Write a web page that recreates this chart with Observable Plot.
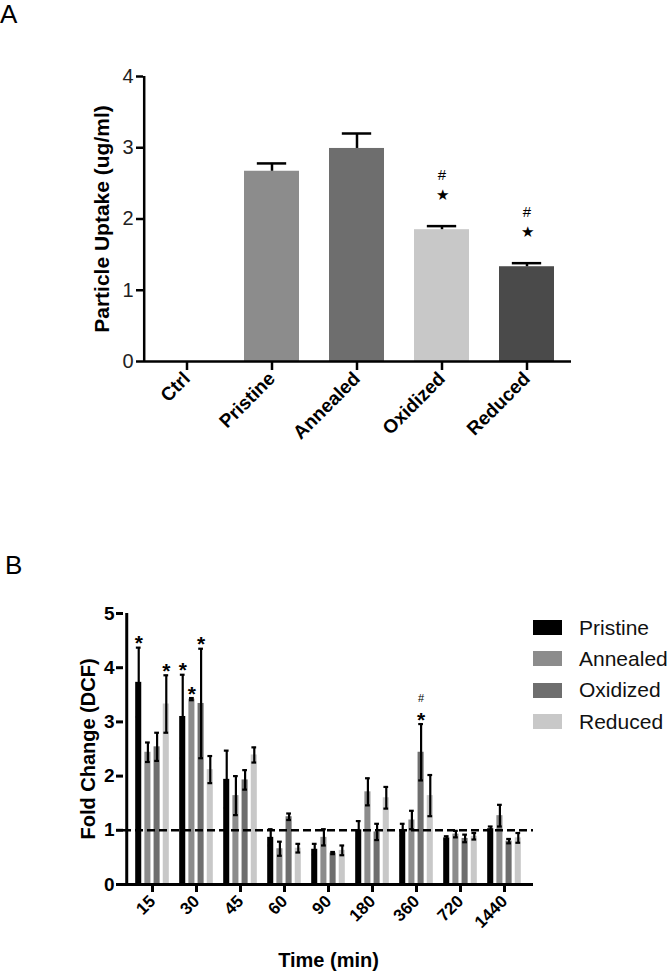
<!DOCTYPE html>
<html>
<head>
<meta charset="utf-8">
<script src="https://cdn.jsdelivr.net/npm/d3@7"></script>
<script src="https://cdn.jsdelivr.net/npm/@observablehq/plot@0.6"></script>
<style>
  html, body { margin: 0; padding: 0; background: #fff; }
  body { width: 670px; height: 975px; position: relative; overflow: hidden;
         font-family: "Liberation Sans", Arial, sans-serif; color: #000; }
  .panel-letter { position: absolute; font-size: 26px; line-height: 1; font-weight: normal; z-index: 5; }
  #chartA, #chartB { position: absolute; left: 0; }
  #chartA { top: 0; }
  #chartB { top: 570px; }
  #legendB { position: absolute; left: 533px; top: 612px; z-index: 5; }
  .lg-row { display: flex; align-items: center; height: 31.3px; }
  .lg-sw { width: 29px; height: 15px; margin-right: 17px; }
  .lg-tx { font-size: 21px; color: #111; }
</style>
</head>
<body>
<div id="chartA"></div>
<div id="chartB"></div>
<div class="panel-letter" style="left:0px;top:1px;">A</div>
<div class="panel-letter" style="left:5px;top:552px;">B</div>
<div id="legendB"></div>
<script>
// ---------- Panel A data ----------
const groupsA = ["Ctrl", "Pristine", "Annealed", "Oxidized", "Reduced"];
const uptakeA = [0, 2.67, 2.99, 1.85, 1.33];
const semA = [0, 0.11, 0.21, 0.05, 0.05];
const colorsA = ["#000000", "#8c8c8c", "#6e6e6e", "#c8c8c8", "#4a4a4a"];
const sigGroupsA = ["Oxidized", "Reduced"];
const yTicksA = [0, 1, 2, 3, 4];

// ---------- Panel B data ----------
const timeLabels = ["15", "30", "45", "60", "90", "180", "360", "720", "1440"];
const seriesB = ["Pristine", "Annealed", "Oxidized", "Reduced"];
const colorsB = ["#000000", "#8c8c8c", "#6e6e6e", "#c8c8c8"];
const meanPristine = [3.73, 3.10, 1.94, 0.87, 0.65, 1.01, 1.01, 0.86, 1.03];
const sdPristine   = [0.64, 0.77, 0.53, 0.15, 0.10, 0.16, 0.11, 0.03, 0.04];
const meanAnnealed = [2.44, 3.42, 1.64, 0.66, 0.87, 1.71, 1.19, 0.93, 1.27];
const sdAnnealed   = [0.18, 0.02, 0.36, 0.13, 0.15, 0.25, 0.17, 0.06, 0.20];
const meanOxidized = [2.54, 3.34, 1.93, 1.25, 0.58, 0.97, 2.44, 0.85, 0.80];
const sdOxidized   = [0.26, 1.01, 0.18, 0.06, 0.02, 0.15, 0.52, 0.07, 0.04];
const meanReduced  = [3.33, 2.12, 2.39, 0.67, 0.63, 1.60, 1.64, 0.89, 0.86];
const sdReduced    = [0.53, 0.25, 0.14, 0.08, 0.09, 0.20, 0.38, 0.06, 0.09];
const sigStarB = [["15", "Pristine"], ["15", "Reduced"], ["30", "Pristine"], ["30", "Annealed"], ["30", "Oxidized"], ["360", "Oxidized"]];
const sigHashB = [["360", "Oxidized"]];
const yTicksB = [0, 1, 2, 3, 4, 5];
const baselineB = 1;

const FONT = "Liberation Sans, Arial, sans-serif";

// ---------- Panel A ----------
{
  const data = groupsA.map((g, i) => ({group: g, value: uptakeA[i], sem: semA[i], color: colorsA[i]}));
  const withErr = data.filter(d => d.sem > 0);
  const sig = data.filter(d => sigGroupsA.includes(d.group));
  const W = 670, H = 430, mL = 143, mR = 99, mT = 76, mB = 69;
  const pi = 0.35, po = 0.175;
  const step = (W - mL - mR) / (groupsA.length - pi + 2 * po);
  const bw = step * (1 - pi);
  const capW = 30;
  const yMax = yTicksA[yTicksA.length - 1];
  const chart = Plot.plot({
    width: W, height: H,
    marginLeft: mL, marginRight: mR, marginTop: mT, marginBottom: mB,
    style: {fontFamily: FONT, color: "#000", background: "#fff", overflow: "visible"},
    x: {domain: groupsA, paddingInner: pi, paddingOuter: po, label: null},
    y: {domain: [0, yMax], label: null},
    marks: [
      Plot.barY(data, {x: "group", y: "value", fill: "color"}),
      Plot.ruleX(withErr, {x: "group", y1: "value", y2: d => d.value + d.sem, stroke: "#000", strokeWidth: 2.5}),
      Plot.tickY(withErr, {x: "group", y: d => d.value + d.sem, stroke: "#000", strokeWidth: 2.5,
        insetLeft: (bw - capW) / 2, insetRight: (bw - capW) / 2}),
      Plot.text(sig, {x: "group", y: d => d.value + d.sem, text: () => "★", dy: -31, fontSize: 15, fill: "#000"}),
      Plot.text(sig, {x: "group", y: d => d.value + d.sem, text: () => "#", dy: -51, fontSize: 15, fill: "#000"}),
      Plot.ruleY([0], {stroke: "#000", strokeWidth: 2.5}),
      // y-axis line at the left edge of the frame
      Plot.ruleX([groupsA[0]], {x: d => d, y1: 0, y2: yMax, dx: -(step * po + bw / 2), stroke: "#000", strokeWidth: 2.5}),
      Plot.axisY({ticks: yTicksA, tickFormat: d3.format("d"), tickSize: 7, tickPadding: 3, fontSize: 20, strokeWidth: 2.5, label: null, fill: "#222"}),
      Plot.axisX({tickSize: 9, strokeWidth: 2.5, tickRotate: -45, tickPadding: 5, fontSize: 19, fontWeight: "bold", label: null}),
      Plot.text(["Particle Uptake (ug/ml)"], {frameAnchor: "left", textAnchor: "middle", rotate: -90, dx: -41, fontSize: 21, fontWeight: "bold", fill: "#000"})
    ]
  });
  document.getElementById("chartA").appendChild(chart);
}

// ---------- Panel B ----------
{
  const means = [meanPristine, meanAnnealed, meanOxidized, meanReduced];
  const sds = [sdPristine, sdAnnealed, sdOxidized, sdReduced];
  const W = 670, H = 405, mL = 123, mR = 137, mT = 43, mB = 91;
  const pi = 0.18, po = 0.165;
  const step = (W - mL - mR) / (timeLabels.length - pi + 2 * po);
  const bw = step * (1 - pi);
  const sub = bw / seriesB.length;
  const barW = 6.8, capW = 5.5;
  const yMax = yTicksB[yTicksB.length - 1];
  const marks = [];
  seriesB.forEach((s, i) => {
    const rows = timeLabels.map((t, j) => ({time: t, series: s, value: means[i][j], sd: sds[i][j]}));
    const g = (sub - barW) / 2;
    const capL = i * sub + (sub - capW) / 2;
    const dx = (i + 0.5) * sub - bw / 2;
    marks.push(Plot.barY(rows, {x: "time", y: "value", fill: colorsB[i],
      insetLeft: i * sub + g, insetRight: (seriesB.length - 1 - i) * sub + g}));
    marks.push(Plot.ruleX(rows, {x: "time", y1: d => d.value - d.sd, y2: d => d.value + d.sd, dx, stroke: "#000", strokeWidth: 2.2}));
    for (const f of [d => d.value + d.sd, d => d.value - d.sd]) {
      marks.push(Plot.tickY(rows, {x: "time", y: f, stroke: "#000", strokeWidth: 2.2,
        insetLeft: capL, insetRight: bw - capL - capW}));
    }
    const stars = rows.filter(r => sigStarB.some(([t, ss]) => t === r.time && ss === s));
    marks.push(Plot.text(stars, {x: "time", y: d => d.value + d.sd, dx, dy: -4, text: () => "*", fontSize: 21, fontWeight: "bold", fill: "#000"}));
    const hashes = rows.filter(r => sigHashB.some(([t, ss]) => t === r.time && ss === s));
    marks.push(Plot.text(hashes, {x: "time", y: d => d.value + d.sd, dx, dy: -26, text: () => "#", fontSize: 11, fill: "#000"}));
  });
  marks.push(Plot.ruleY([baselineB], {stroke: "#000", strokeWidth: 2.5, strokeDasharray: "8,4"}));
  marks.push(Plot.ruleY([0], {stroke: "#000", strokeWidth: 3}));
  marks.push(Plot.ruleX([timeLabels[0]], {x: d => d, y1: 0, y2: yMax, dx: -(step * po + bw / 2), stroke: "#000", strokeWidth: 3}));
  marks.push(Plot.axisY({ticks: yTicksB, tickFormat: d3.format("d"), tickSize: 7, tickPadding: 2, fontSize: 19, fontWeight: "bold", strokeWidth: 3, label: null}));
  marks.push(Plot.axisX({tickSize: 8, strokeWidth: 3, tickRotate: -45, tickPadding: 6, fontSize: 17, fontWeight: "bold", label: null}));
  marks.push(Plot.text(["Fold Change (DCF)"], {frameAnchor: "left", textAnchor: "middle", rotate: -90, dx: -35, fontSize: 20, fontWeight: "bold", fill: "#000"}));
  marks.push(Plot.text(["Time (min)"], {frameAnchor: "bottom", dy: 82, fontSize: 20, fontWeight: "bold", fill: "#000"}));
  const chart = Plot.plot({
    width: W, height: H,
    marginLeft: mL, marginRight: mR, marginTop: mT, marginBottom: mB,
    style: {fontFamily: FONT, color: "#000", background: "#fff", overflow: "visible"},
    x: {domain: timeLabels, paddingInner: pi, paddingOuter: po, label: null},
    y: {domain: [0, yMax], label: null},
    marks
  });
  document.getElementById("chartB").appendChild(chart);

  const lg = document.getElementById("legendB");
  seriesB.forEach((s, i) => {
    const row = document.createElement("div");
    row.className = "lg-row";
    row.innerHTML = `<div class="lg-sw" style="background:${colorsB[i]}"></div><div class="lg-tx">${s}</div>`;
    lg.appendChild(row);
  });
}
</script>
</body>
</html>
